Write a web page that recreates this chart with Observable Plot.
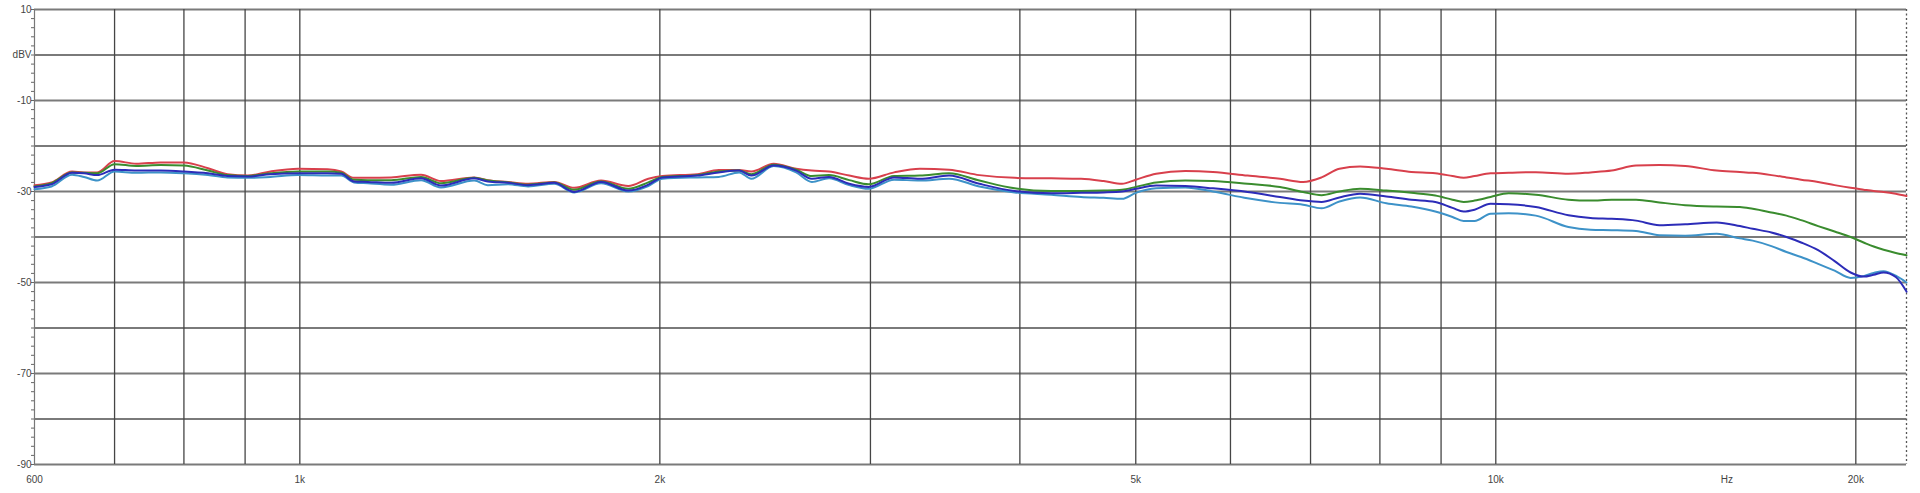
<!DOCTYPE html>
<html><head><meta charset="utf-8">
<script src="https://cdn.jsdelivr.net/npm/d3@7"></script>
<script src="https://cdn.jsdelivr.net/npm/@observablehq/plot@0.6"></script>
<style>html,body{margin:0;padding:0;background:#fff}</style>
</head><body><div id="chart"></div>
<script>
const freqs = [600,620,645,660,677,700,730,765,800,838,870,905,945,997,1055,1083,1110,1140,1192,1263,1312,1399,1436,1493,1552,1632,1696,1786,1882,1956,2010,2150,2240,2330,2385,2490,2600,2680,2770,2880,2990,3140,3300,3490,
  3700,3960,4250,4500,4700,4870,5000,5200,5500,5800,6200,6600,6900,7150,7400,7700,8100,8500,8900,9200,9400,9600,9900,10250,10800,11500,12000,12500,13100,13700,14400,15300,16000,16400,17000,17500,18000,18600,19200,19800,20300,20700,21100,21600,22050];
const trace1 = [-28.6,-28.0,-25.6,-25.8,-25.8,-23.3,-23.9,-23.6,-23.6,-24.9,-26.2,-26.5,-25.6,-25.0,-25.1,-25.6,-27.0,-27.0,-26.9,-26.3,-27.7,-26.9,-27.5,-27.9,-28.3,-27.9,-29.2,-27.6,-28.8,-27.2,-26.6,-26.2,-25.3,-25.3,-25.6,-23.9,-25.0,-25.4,-25.6,-26.5,-27.2,-25.8,-25.0,-25.2,
  -26.4,-27.0,-27.1,-27.2,-27.7,-28.3,-27.4,-26.1,-25.5,-25.7,-26.5,-27.2,-27.9,-26.9,-25.0,-24.5,-25.0,-25.7,-26.0,-26.6,-27.0,-26.6,-26.0,-25.9,-25.75,-26.1,-25.8,-25.4,-24.3,-24.2,-24.4,-25.4,-25.7,-25.9,-26.4,-26.9,-27.4,-27.9,-28.6,-29.2,-29.6,-29.9,-30.1,-30.5,-31.0];
const trace2 = [-28.9,-28.2,-25.8,-25.9,-26.0,-24.0,-24.4,-24.2,-24.3,-25.4,-26.4,-26.6,-26.0,-25.6,-25.6,-25.9,-27.4,-27.5,-27.5,-26.8,-28.2,-27.0,-27.6,-28.0,-28.5,-28.0,-29.6,-27.8,-29.4,-28.0,-26.8,-26.4,-25.6,-25.4,-26.2,-24.1,-25.2,-26.6,-26.4,-27.5,-28.4,-26.6,-26.5,-26.0,
  -27.6,-29.3,-29.9,-29.9,-29.8,-29.6,-29.0,-28.0,-27.6,-27.7,-28.3,-29.0,-30.1,-30.8,-30.0,-29.4,-29.8,-30.3,-30.9,-31.8,-32.3,-32.0,-31.2,-30.4,-30.7,-31.8,-32.0,-31.8,-31.8,-32.4,-33.0,-33.3,-33.4,-33.8,-34.6,-35.3,-36.3,-37.6,-38.8,-40.0,-41.2,-42.1,-42.8,-43.5,-44.0];
const trace3 = [-29.5,-28.9,-26.3,-26.8,-27.6,-25.6,-25.9,-25.8,-26.0,-26.4,-26.9,-27.0,-26.8,-26.4,-26.5,-26.5,-28.0,-28.2,-28.5,-27.5,-29.1,-27.6,-28.6,-28.4,-28.9,-28.3,-30.2,-28.2,-30.0,-28.8,-27.2,-26.9,-26.8,-25.8,-27.2,-24.4,-25.8,-27.9,-27.1,-28.6,-29.4,-27.4,-27.6,-27.2,
  -28.9,-30.2,-30.7,-31.2,-31.4,-31.6,-30.3,-29.3,-29.1,-30.0,-31.5,-32.5,-32.9,-33.7,-32.2,-31.3,-32.6,-33.3,-34.4,-35.6,-36.5,-36.5,-34.9,-34.8,-35.3,-37.8,-38.4,-38.5,-38.7,-39.6,-39.7,-39.3,-40.3,-40.8,-42.0,-43.3,-44.4,-45.9,-47.4,-49.0,-48.6,-47.9,-47.5,-48.5,-50.0];
const trace4 = [-29.0,-28.4,-25.9,-26.0,-26.4,-25.2,-25.4,-25.4,-25.6,-26.0,-26.6,-26.7,-26.2,-26.0,-26.0,-26.1,-27.8,-27.9,-28.1,-27.1,-28.7,-27.1,-27.8,-28.1,-28.6,-28.1,-30.1,-27.9,-29.8,-28.5,-26.9,-26.5,-25.8,-25.4,-26.5,-24.3,-25.4,-27.2,-26.8,-28.3,-29.0,-26.9,-27.2,-26.5,
  -28.3,-29.9,-30.4,-30.3,-30.2,-30.0,-29.4,-28.7,-28.8,-29.3,-30.1,-31.2,-32.0,-32.3,-31.3,-30.5,-31.1,-31.8,-32.3,-33.6,-34.4,-34.0,-32.7,-32.8,-33.4,-35.2,-35.8,-36.0,-36.4,-37.4,-37.2,-36.8,-37.6,-38.2,-39.0,-40.0,-41.2,-42.9,-45.3,-47.8,-48.7,-48.3,-47.8,-48.8,-52.0];

const seriesNames = ["Trace 1", "Trace 2", "Trace 3", "Trace 4"];
const seriesColors = ["#d8404c", "#3a8c2e", "#3d92c8", "#2c2cb8"];
const seriesValues = [trace1, trace2, trace3, trace4];

const gridFreqs = [700,800,900,1000,2000,3000,4000,5000,6000,7000,8000,9000,10000,20000];
const gridDb = [10,0,-10,-20,-30,-40,-50,-60,-70,-80,-90];
const minorDb = d3.range(-90, 11, 2);
const xTicks = [600,1000,2000,5000,10000,15600,20000];
const xTickLabels = ["600","1k","2k","5k","10k","Hz","20k"];
const yTicks = [10,0,-10,-30,-50,-70,-90];
const yTickLabels = ["10","dBV","-10","-30","-50","-70","-90"];
const xDomain = [600, 22050];
const yDomain = [-90, 10];

const rows = seriesNames.flatMap((name, s) => freqs.map((f, i) => ({f, db: seriesValues[s][i], name})));

const chart = Plot.plot({
  width: 1920, height: 493,
  marginLeft: 34, marginRight: 14, marginTop: 9, marginBottom: 29,
  x: {type: "log", domain: xDomain, label: null},
  y: {domain: yDomain, label: null},
  color: {domain: seriesNames, range: seriesColors},
  style: {fontFamily: "'Liberation Sans', Arial, sans-serif", fontSize: "10px", color: "#444", background: "#fff"},
  marks: [
    Plot.ruleY(gridDb, {stroke: "#7a7a7a", strokeWidth: 1.8}),
    Plot.ruleX(gridFreqs, {stroke: "#454545", strokeWidth: 1.3}),
    Plot.ruleX([xDomain[0]], {stroke: "#777", strokeWidth: 1.2}),
    Plot.ruleX([xDomain[1]], {stroke: "#555", strokeWidth: 1.3, strokeDasharray: "2,2.5"}),
    Plot.axisY(minorDb, {tickSize: 3, tickFormat: () => "", stroke: "#666", label: null}),
    Plot.axisY(yTicks, {tickSize: 0, tickPadding: 3, tickFormat: d => yTickLabels[yTicks.indexOf(d)], label: null}),
    Plot.axisX(xTicks, {tickSize: 0, tickPadding: 11, tickFormat: d => xTickLabels[xTicks.indexOf(d)], label: null}),
    Plot.line(rows, {x: "f", y: "db", z: "name", stroke: "name", strokeWidth: 2, curve: "monotone-x"})
  ]
});
document.getElementById("chart").appendChild(chart);
</script>
</body></html>
